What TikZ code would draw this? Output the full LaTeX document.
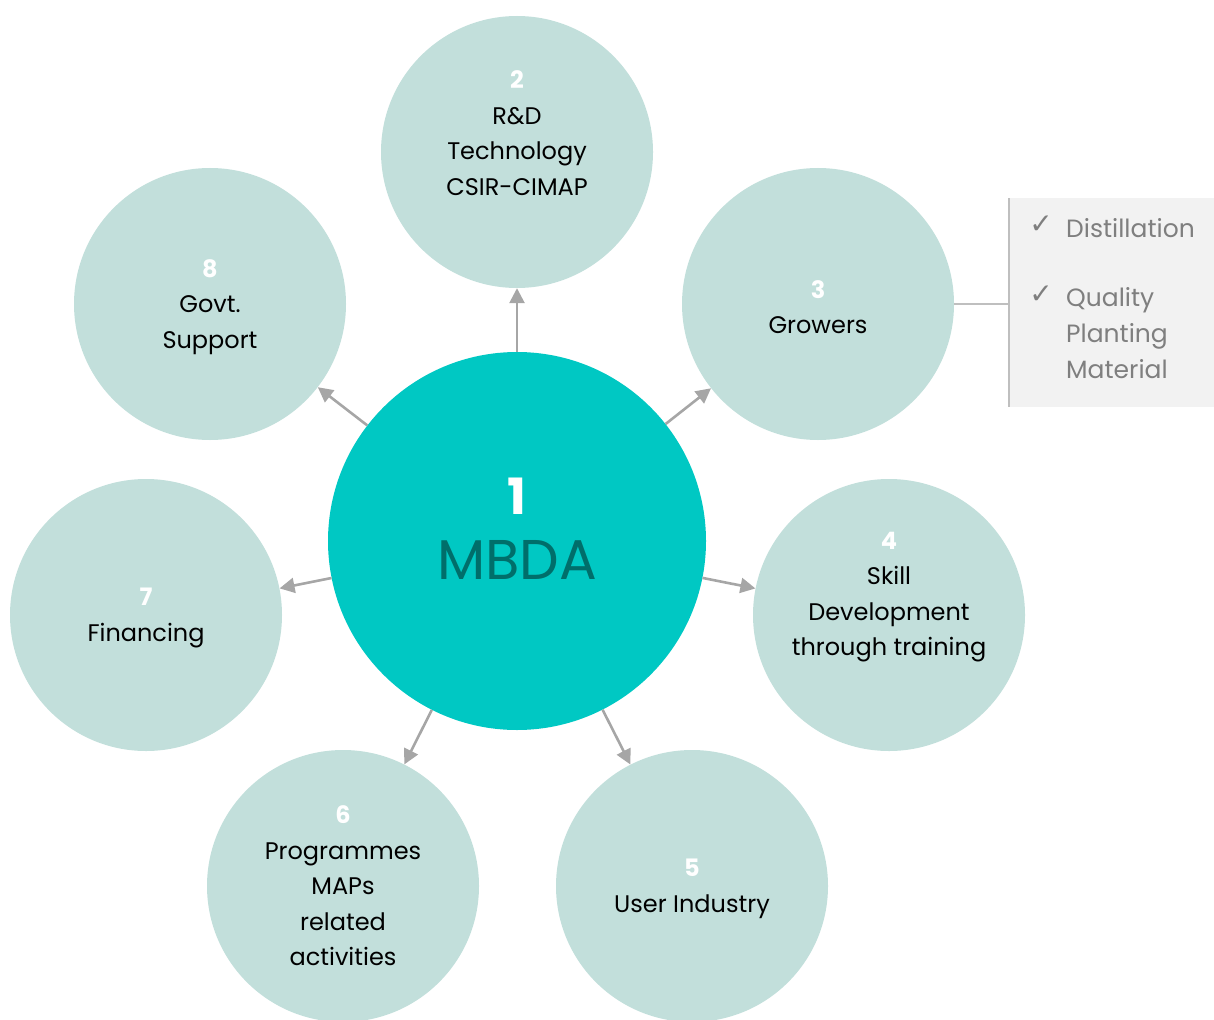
\documentclass[tikz,border=0pt]{standalone}
\usepackage{fontspec}
\setmainfont{Poppins}
\newfontfamily\symfont{DejaVu Sans}
\usetikzlibrary{arrows.meta}
\definecolor{hubfill}{RGB}{0,200,195}
\definecolor{hubtext}{RGB}{0,110,106}
\definecolor{spokefill}{RGB}{194,223,219}
\definecolor{arrowgray}{RGB}{166,166,166}
\definecolor{notefill}{RGB}{242,242,242}
\definecolor{noteline}{RGB}{191,191,191}
\definecolor{notetext}{RGB}{127,127,127}
\newcommand{\stepnum}[1]{{\fontsize{24}{35.5}\selectfont\bfseries\color{white}#1}}
\begin{document}
\begin{tikzpicture}[x=1pt,y=-1pt,
  hub/.style={circle,fill=hubfill,minimum size=378pt,inner sep=0pt},
  spoke/.style={circle,fill=spokefill,minimum size=272pt,inner sep=0pt},
  spoketext/.style={align=center,inner sep=0pt,text=black,font=\fontsize{24}{35.5}\selectfont},
  arr/.style={draw=arrowgray,line width=2.6pt,-{Triangle[length=15pt,width=15pt]}},
  notetxt/.style={text=notetext,inner sep=0pt,font=\fontsize{25}{36}\selectfont},
  checkmark/.style={text=notetext,inner sep=0pt,font=\symfont\fontsize{28}{28}\selectfont}]
\useasboundingbox (0,0) rectangle (1214,1019);

% central hub and the seven surrounding circles
\node[hub] (c1) at (517,541) {};
\node[spoke] (c2) at (517,152) {};
\node[spoke] (c3) at (818,304) {};
\node[spoke] (c4) at (889,615) {};
\node[spoke] (c5) at (692,886) {};
\node[spoke] (c6) at (343,886) {};
\node[spoke] (c7) at (146,615) {};
\node[spoke] (c8) at (210,304) {};

% connectors from the hub outwards
\foreach \k in {2,...,8} \draw[arr] (c1) -- (c\k);

% hub label
\node[inner sep=0pt,text=white,font=\fontsize{50}{50}\selectfont\bfseries] (h1) at (517,496) {1};
\node[inner sep=0pt,text=hubtext,font=\fontsize{56}{56}\selectfont] (h2) at (517,560) {MBDA};

% circle labels
\node[spoketext] (t2) at (517,133) {\stepnum{2}\\R\&D\\Technology\\CSIR-CIMAP};
\node[spoketext] (t3) at (818,307) {\stepnum{3}\\Growers};
\node[spoketext] (t4) at (889,597) {\stepnum{4}\\Skill\\Development\\through training};
\node[spoketext] (t5) at (692,889) {\stepnum{5}\\User Industry};
\node[spoketext] (t6) at (343,886) {\stepnum{6}\\Programmes\\MAPs\\related\\activities};
\node[spoketext] (t7) at (146,618) {\stepnum{7}\\Financing};
\node[spoketext] (t8) at (210,307) {\stepnum{8}\\Govt.\\Support};

% side note attached to Growers
\node[fill=notefill,minimum width=205pt,minimum height=209pt,inner sep=0pt,anchor=north west] (box) at (1009,198) {};
\draw[noteline,line width=2pt] (box.north west) -- (box.south west);
\draw[noteline,line width=1.5pt] (c3.east) -- (c3.east -| box.west);
\node[checkmark] (k1) at (1041,225) {✓};
\node[notetxt,anchor=west] (n1) at (1066,228) {Distillation};
\node[checkmark] (k2) at (1041,295) {✓};
\node[notetxt,anchor=north west,align=left] (n2) at (1066,287) {Quality\\Planting\\Material};
\end{tikzpicture}
\end{document}
